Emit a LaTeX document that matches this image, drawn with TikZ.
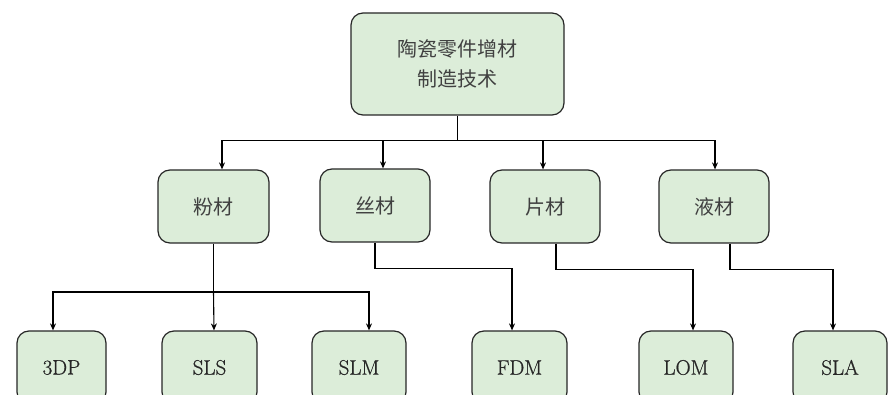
\documentclass[tikz,border=0pt]{standalone}
\usepackage{fontspec}
\newfontfamily\cjk{Noto Sans CJK SC}
\newfontfamily\latn[FakeBold=0.8]{Latin Modern Roman}
\usetikzlibrary{arrows.meta,calc}
\definecolor{boxfill}{HTML}{DCEDD9}
\definecolor{txtgray}{HTML}{262626}
\begin{document}
\begin{tikzpicture}[x=1pt,y=-1pt,
  box/.style={draw=black!85,line width=1.2pt,fill=boxfill,rounded corners=12pt,
    minimum width=#1,minimum height=73pt,inner sep=0pt,text=txtgray,font=\latn\fontsize{21}{24}\selectfont},
  box/.default=110pt,
  cjkbox/.style={box=#1,font=\cjk\fontsize{20}{24}\selectfont,text=black!75},
  conn/.style={line width=1.1pt,draw=black},
  arr/.style={conn,-{Stealth[length=7pt,width=6pt]}}]
\clip (0,0) rectangle (888,395);
\useasboundingbox (0,0) rectangle (888,395);
\node[cjkbox=213pt,minimum height=102pt,align=center,font=\cjk\fontsize{20}{30}\selectfont] (top) at (457.5,64) {陶瓷零件增材\\制造技术};
\node[cjkbox=111pt] (p1) at (213.5,206.5) {粉材};
\node[cjkbox=110pt] (p2) at (375,205.5) {丝材};
\node[cjkbox=110pt] (p3) at (545,206.5) {片材};
\node[cjkbox=110pt] (p4) at (714,206.5) {液材};
\node[box=89pt] (b1) at (61.5,367.5) {3DP};
\node[box=95pt] (b2) at (209.5,367.5) {SLS};
\node[box=94pt] (b3) at (359,367.5) {SLM};
\node[box=95pt] (b4) at (519.5,367.5) {FDM};
\node[box=94pt] (b5) at (686,367.5) {LOM};
\node[box=94pt] (b6) at (840,367.5) {SLA};
% top bus
\coordinate (busT) at ($(top.south)+(0,25)$);
\draw[conn] (top.south) -- (busT);
\draw[arr] (busT) -| ([xshift=8.5pt]p1.north);
\draw[arr] (busT) -| ([xshift=1pt]p4.north);
\draw[arr] (busT -| p2.north) ++(8pt,0) -- ([xshift=8pt]p2.north);
\draw[arr] (busT -| p3.north) ++(-2pt,0) -- ([xshift=-2pt]p3.north);
% powder bus
\coordinate (busP) at (p1.south |- 0,292);
\draw[conn] (p1.south) -- (busP);
\draw[arr] (busP) -| ([xshift=-8.5pt]b1.north);
\draw[arr] (busP) -| ([xshift=10pt]b3.north);
\draw[arr] (busP) -- ([xshift=4.5pt]b2.north);
% other branches
\draw[arr] (p2.south) |- ++(0,26) -| ([xshift=-7.5pt]b4.north);
\draw[arr] ([xshift=11pt]p3.south) |- ++(0,26) -| ([xshift=7pt]b5.north);
\draw[arr] ([xshift=16pt]p4.south) |- ++(0,26) -| ([xshift=-7pt]b6.north);
\end{tikzpicture}
\end{document}
